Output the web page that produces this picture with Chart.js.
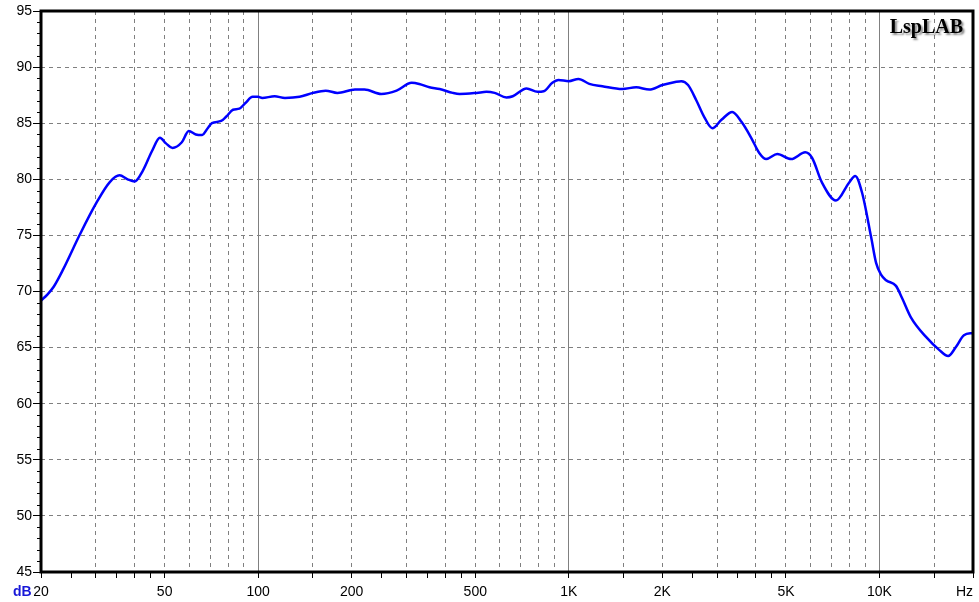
<!DOCTYPE html>
<html>
<head>
<meta charset="utf-8">
<script src="https://cdn.jsdelivr.net/npm/chart.js@4.4.1/dist/chart.umd.min.js"></script>
<style>
  html, body { margin: 0; padding: 0; background: #fff; }
</style>
</head>
<body>
<canvas id="chart" width="979" height="602"></canvas>
<script>
// frequency response (Hz / dB)
const freqs = [20, 21, 22, 23.5, 26.7, 30.3, 33.3, 35.8, 38, 40, 42.6, 45.5, 48.3, 50.5, 53, 56.8, 59.8, 63, 66, 69, 71, 76, 79, 83, 87, 91, 96,
  100, 103, 113, 122, 136, 150, 165, 180, 205, 220, 249, 279, 312, 330, 356, 384, 423, 445, 505, 543, 577, 630, 660, 731, 793, 830, 885, 926,
  1000, 1074, 1164, 1282, 1486, 1648, 1816, 2000, 2218, 2302, 2420, 2572, 2729, 2897, 3100, 3358, 3600, 3864, 4102, 4318, 4688, 5200, 5768,
  6070, 6532, 7244, 7980, 8354, 8790, 9399, 9752, 10116, 10500, 11300, 11830, 12620, 14120, 15560, 16640, 17620, 18700, 20000];
const spl = [69.2, 69.75, 70.45, 71.9, 75.1, 78.0, 79.75, 80.35, 80.0, 79.8, 80.8, 82.5, 83.7, 83.2, 82.8, 83.3, 84.3, 84.0, 83.95, 84.6, 85.0, 85.2, 85.6, 86.2, 86.3, 86.8, 87.35,
  87.35, 87.25, 87.4, 87.25, 87.35, 87.7, 87.9, 87.7, 88.0, 88.0, 87.6, 87.9, 88.6, 88.5, 88.2, 88.05, 87.7, 87.6, 87.7, 87.8, 87.7, 87.3, 87.4, 88.1, 87.8, 87.85, 88.6, 88.85,
  88.75, 88.95, 88.5, 88.3, 88.05, 88.2, 88.0, 88.4, 88.7, 88.75, 88.4, 87.05, 85.55, 84.55, 85.3, 86.0, 85.1, 83.7, 82.35, 81.8, 82.25, 81.8, 82.4,
  81.9, 79.7, 78.1, 79.7, 80.3, 78.8, 74.85, 72.55, 71.5, 71.0, 70.5, 69.4, 67.7, 65.95, 64.8, 64.25, 65.05, 66.1, 66.3];

const xTicks = [20, 25, 30, 35, 40, 45, 50, 60, 70, 80, 90,
  100, 150, 200, 250, 300, 350, 400, 450, 500, 600, 700, 800, 900,
  1000, 1500, 2000, 2500, 3000, 3500, 4000, 4500, 5000, 6000, 7000, 8000, 9000,
  10000, 15000, 20000];
const xLabels = { 20: '20', 50: '50', 100: '100', 200: '200', 500: '500', 1000: '1K', 2000: '2K', 5000: '5K', 10000: '10K' };
const yMin = 45, yMax = 95, yStep = 5;

const mult = v => Math.round(v / Math.pow(10, Math.floor(Math.log10(v) + 1e-9)) * 10) / 10;

const decor = {
  id: 'decor',
  afterDraw(chart) {
    const { ctx, chartArea: a, scales: { y } } = chart;
    ctx.save();
    ctx.strokeStyle = '#000';
    ctx.lineWidth = 1;
    for (let v = yMin; v <= yMax; v++) {
      if (v % yStep === 0) continue;
      const py = Math.round(y.getPixelForValue(v)) + 0.5;
      ctx.beginPath();
      ctx.moveTo(a.left - 4, py);
      ctx.lineTo(a.left, py);
      ctx.stroke();
    }
    ctx.lineWidth = 3;
    ctx.strokeRect(a.left, a.top, a.right - a.left, a.bottom - a.top);

    ctx.textBaseline = 'alphabetic';
    ctx.font = 'bold 14px "Liberation Sans", Arial, sans-serif';
    ctx.fillStyle = '#1818d8';
    ctx.textAlign = 'left';
    ctx.fillText('dB', 13, 596);
    ctx.font = '14px "Liberation Sans", Arial, sans-serif';
    ctx.fillStyle = '#000';
    ctx.textAlign = 'right';
    ctx.fillText('Hz', 973, 596);

    ctx.font = 'bold 20px "Liberation Serif", "Times New Roman", serif';
    ctx.shadowColor = 'rgba(0,0,0,0.45)';
    ctx.shadowOffsetX = 2;
    ctx.shadowOffsetY = 2;
    ctx.shadowBlur = 2;
    ctx.fillText('LspLAB', 963, 33);
    ctx.restore();
  }
};

new Chart(document.getElementById('chart'), {
  type: 'line',
  data: {
    datasets: [{
      data: freqs.map((f, i) => ({ x: f, y: spl[i] })),
      borderColor: '#0000ff',
      borderWidth: 2.5,
      pointRadius: 0,
      cubicInterpolationMode: 'monotone',
      fill: false
    }]
  },
  options: {
    responsive: false,
    animation: false,
    layout: { padding: { top: 11, right: 6, left: 0, bottom: 0 } },
    plugins: { legend: { display: false }, tooltip: { enabled: false } },
    scales: {
      x: {
        type: 'logarithmic',
        min: 20,
        max: 20000,
        afterBuildTicks: s => { s.ticks = xTicks.map(v => ({ value: v })); },
        afterFit: s => { s.height = 30; },
        ticks: {
          autoSkip: false,
          maxRotation: 0,
          padding: 6,
          color: '#000',
          font: { family: '"Liberation Sans", Arial, sans-serif', size: 14 },
          callback: v => xLabels[v] || ''
        },
        border: {
          display: false,
          dash: c => (c.tick && mult(c.tick.value) !== 1) ? [4, 4] : []
        },
        grid: {
          lineWidth: 1,
          color: c => {
            if (!c.tick) return '#808080';
            const m = mult(c.tick.value);
            return (m === 2.5 || m === 3.5 || m === 4.5) ? 'rgba(0,0,0,0)' : '#808080';
          },
          tickLength: 6,
          tickWidth: 1,
          tickColor: c => (c.tick && mult(c.tick.value) > 5) ? 'rgba(0,0,0,0)' : '#000'
        }
      },
      y: {
        min: yMin,
        max: yMax,
        afterFit: s => { s.width = 41; },
        ticks: {
          stepSize: yStep,
          padding: 1,
          color: '#000',
          font: { family: '"Liberation Sans", Arial, sans-serif', size: 14 }
        },
        border: { display: false, dash: [4, 4] },
        grid: {
          color: '#808080',
          lineWidth: 1,
          tickLength: 8,
          tickWidth: 1,
          tickColor: '#000'
        }
      }
    }
  },
  plugins: [decor]
});
</script>
</body>
</html>
